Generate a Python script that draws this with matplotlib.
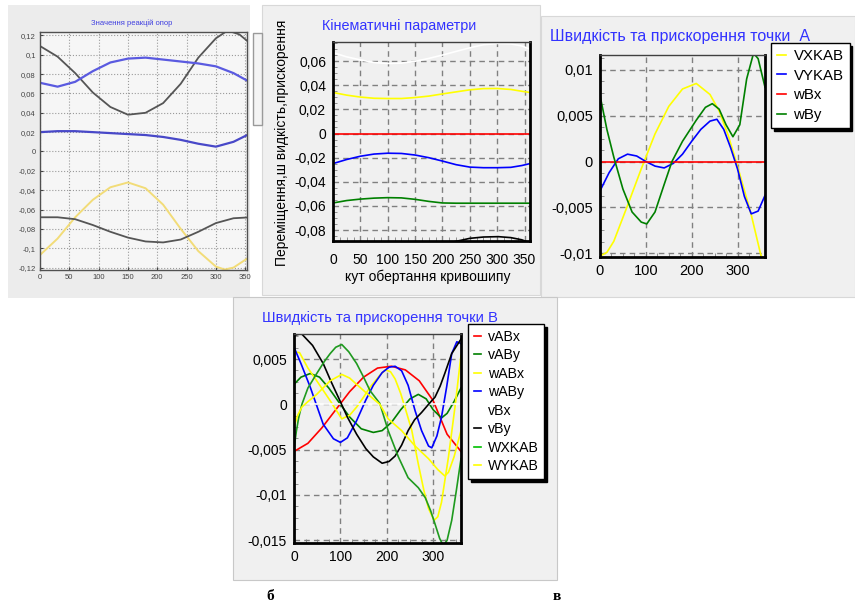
import matplotlib
matplotlib.use('Agg')
import matplotlib.pyplot as plt
from matplotlib.patches import Rectangle
from matplotlib.ticker import FuncFormatter, MultipleLocator

plt.rcParams.update({
    'font.family': ['Liberation Sans', 'DejaVu Sans'],
    'axes.unicode_minus': False,
})

W, H = 855, 605

# ---- панель 1: Значення реакцій опор ----
p1_black1_x = [0, 30, 60, 90, 120, 150, 180, 210, 240, 270, 300, 320, 340, 360]
p1_black1_y = [0.109, 0.098, 0.081, 0.061, 0.046, 0.038, 0.040, 0.050, 0.070, 0.097, 0.117, 0.125, 0.121, 0.111]
p1_blue1_x = [0, 30, 60, 90, 120, 150, 180, 210, 240, 270, 300, 330, 360]
p1_blue1_y = [0.071, 0.067, 0.072, 0.083, 0.092, 0.096, 0.097, 0.095, 0.093, 0.091, 0.088, 0.081, 0.071]
p1_blue2_x = [0, 30, 60, 90, 120, 150, 180, 210, 240, 270, 300, 330, 360]
p1_blue2_y = [0.020, 0.021, 0.021, 0.020, 0.019, 0.018, 0.017, 0.015, 0.012, 0.008, 0.005, 0.010, 0.019]
p1_yellow_x = [0, 30, 60, 90, 120, 150, 180, 210, 240, 270, 300, 315, 330, 360]
p1_yellow_y = [-0.107, -0.090, -0.068, -0.050, -0.037, -0.032, -0.038, -0.055, -0.080, -0.103, -0.119, -0.122, -0.120, -0.108]
p1_black2_x = [0, 30, 60, 90, 120, 150, 180, 210, 240, 270, 300, 330, 360]
p1_black2_y = [-0.068, -0.068, -0.070, -0.076, -0.083, -0.089, -0.093, -0.094, -0.091, -0.083, -0.074, -0.069, -0.068]

# ---- панель 2: Кінематичні параметри ----
p2_x = [0, 25, 50, 75, 100, 125, 150, 175, 200, 225, 250, 275, 300, 325, 345, 360]
p2_white = [0.067, 0.0635, 0.061, 0.0588, 0.058, 0.0583, 0.0598, 0.0622, 0.065, 0.068, 0.071, 0.0735, 0.0746, 0.0742, 0.0725, 0.0699]
p2_yellow = [0.034, 0.0318, 0.0302, 0.0292, 0.029, 0.029, 0.0298, 0.031, 0.0328, 0.0345, 0.0362, 0.0372, 0.0373, 0.0365, 0.035, 0.034]
p2_blue = [-0.0249, -0.0215, -0.0188, -0.017, -0.0163, -0.0165, -0.0178, -0.02, -0.0228, -0.0258, -0.0278, -0.0283, -0.0283, -0.028, -0.0265, -0.0249]
p2_green = [-0.0575, -0.0555, -0.0543, -0.0535, -0.0531, -0.0533, -0.0545, -0.0562, -0.0575, -0.0577, -0.0577, -0.0577, -0.0577, -0.0577, -0.0577, -0.0577]
p2_red = [0] * 16
p2_black_x = [0, 100, 200, 223, 250, 275, 302, 325, 345, 360]
p2_black_y = [-0.100, -0.097, -0.092, -0.0895, -0.0868, -0.0857, -0.0854, -0.0862, -0.088, -0.0905]

# ---- панель 3: точка А ----
p3_vx_x = [0, 15, 30, 60, 90, 120, 150, 180, 210, 240, 260, 280, 300, 330, 350, 360]
p3_vx_y = [-0.0103, -0.0099, -0.0087, -0.0048, -0.0008, 0.0030, 0.0060, 0.0079, 0.0085, 0.0073, 0.0055, 0.0028, -0.0005, -0.0058, -0.0100, -0.0115]
p3_vy_x = [0, 20, 40, 60, 80, 100, 120, 140, 160, 180, 200, 220, 240, 255, 270, 285, 300, 315, 330, 345, 360]
p3_vy_y = [-0.0032, -0.0012, 0.0003, 0.0008, 0.0006, 0.0, -0.0005, -0.0007, -0.0002, 0.0008, 0.0022, 0.0035, 0.0044, 0.0046, 0.0035, 0.0015, -0.0008, -0.0038, -0.0057, -0.0054, -0.0037]
p3_wbx_x = [0, 360]
p3_wbx_y = [0, 0]
p3_wby_x = [0, 15, 30, 50, 70, 90, 102, 120, 140, 157, 180, 210, 230, 245, 260, 275, 290, 305, 320, 335, 345, 360]
p3_wby_y = [0.0072, 0.0035, 0.0005, -0.0030, -0.0055, -0.0066, -0.0068, -0.0055, -0.0025, 0.0, 0.0022, 0.0045, 0.0059, 0.0063, 0.0057, 0.0040, 0.0027, 0.0040, 0.0090, 0.0118, 0.0112, 0.0081]

# ---- панель 4: точка В ----
p4_vabx_x = [0, 30, 60, 90, 120, 150, 180, 210, 240, 270, 300, 330, 360]
p4_vabx_y = [-0.0052, -0.0043, -0.0026, -0.0006, 0.0014, 0.0030, 0.0040, 0.0042, 0.0038, 0.0026, 0.0004, -0.0033, -0.0052]
p4_vaby_x = [0, 15, 35, 55, 75, 100, 120, 145, 171, 190, 210, 230, 250, 268, 285, 300, 318, 330, 345, 360]
p4_vaby_y = [0.0022, 0.0030, 0.0034, 0.0030, 0.0018, 0.0, -0.0014, -0.0027, -0.0031, -0.0029, -0.0020, -0.0006, 0.0006, 0.0011, 0.0006, -0.0006, -0.0015, -0.0010, 0.0003, 0.0018]
p4_wabx_x = [0, 12, 30, 49, 78, 103, 120, 135, 150, 164, 185, 197, 208, 218, 230, 239, 254, 268, 280, 290, 302, 310, 318, 333, 347, 360]
p4_wabx_y = [0.0058, 0.0057, 0.0040, 0.0026, 0.0004, -0.0016, -0.0012, -0.0003, 0.0008, 0.0019, 0.0032, 0.0038, 0.0036, 0.0028, 0.0012, -0.0003, -0.0029, -0.0066, -0.0095, -0.0115, -0.0128, -0.0124, -0.0108, -0.0058, -0.0003, 0.0054]
p4_waby_x = [0, 15, 35, 63, 85, 100, 115, 135, 155, 171, 190, 205, 218, 232, 246, 261, 275, 290, 297, 308, 318, 329, 340, 351, 360]
p4_waby_y = [0.0063, 0.0045, 0.0019, -0.0022, -0.0038, -0.0042, -0.0037, -0.0018, 0.0005, 0.0021, 0.0035, 0.0041, 0.0042, 0.0037, 0.0021, -0.0007, -0.0029, -0.0046, -0.0048, -0.0035, -0.0014, 0.0019, 0.0056, 0.0069, 0.0067]
p4_vbx_x = [0, 360]
p4_vbx_y = [0, 0]
p4_vby_x = [0, 16, 40, 63, 80, 99, 115, 135, 155, 171, 190, 205, 218, 232, 246, 260, 275, 290, 304, 315, 325, 340, 360]
p4_vby_y = [0.0076, 0.0078, 0.0065, 0.0045, 0.0025, 0.0004, -0.0014, -0.0033, -0.0049, -0.0058, -0.0065, -0.0063, -0.0057, -0.0045, -0.0029, -0.0017, -0.0009, 0.0, 0.0008, 0.0020, 0.0034, 0.0056, 0.0072]
p4_wx_x = [0, 5, 10, 17, 30, 49, 65, 78, 90, 103, 118, 135, 150, 164, 185, 203, 225, 246, 268, 283, 295, 304, 314, 322, 330, 340, 350, 360]
p4_wx_y = [-0.0049, -0.0030, -0.0015, 0.0, 0.0018, 0.0034, 0.0047, 0.0056, 0.0063, 0.0066, 0.0058, 0.0045, 0.0030, 0.0015, 0.0001, -0.0029, -0.0058, -0.0081, -0.0092, -0.0103, -0.0118, -0.0132, -0.0148, -0.0156, -0.0150, -0.0128, -0.0095, -0.0060]
p4_wy_x = [0, 8, 17, 30, 49, 78, 103, 120, 135, 155, 171, 185, 203, 232, 261, 290, 310, 325, 333, 345, 360]
p4_wy_y = [-0.0025, -0.0012, -0.0003, 0.0003, 0.0011, 0.0026, 0.0033, 0.0029, 0.0022, 0.0013, 0.0006, 0.0, -0.0016, -0.0029, -0.0046, -0.0060, -0.0072, -0.0079, -0.0075, -0.0058, -0.0029]


def fig_rect(l, t, r, b):
    return [l / W, 1 - b / H, (r - l) / W, (b - t) / H]


def bg(fig, l, t, r, b, fc, ec='none', lw=0.8):
    fig.add_artist(Rectangle((l / W, 1 - b / H), (r - l) / W, (b - t) / H,
                             transform=fig.transFigure, facecolor=fc,
                             edgecolor=ec, lw=lw, zorder=0))


def comma(v, pos):
    v = round(v, 5)
    if v == 0:
        return '0'
    return f"{v:g}".replace('.', ',')


def style_box(ax, lw_main=2.0, lw_top=1.0):
    for s in ['left', 'bottom', 'right']:
        ax.spines[s].set_linewidth(lw_main)
        ax.spines[s].set_color('black')
    ax.spines['top'].set_linewidth(lw_top)
    ax.spines['top'].set_color('#404040')
    ax.set_facecolor('#f0f0f0')
    ax.grid(True, which='major', color='#808080', ls=(0, (4, 3)), lw=1.0)
    ax.yaxis.set_major_formatter(FuncFormatter(comma))
    ax.tick_params(which='major', direction='in', length=0, labelsize=10, pad=5)
    ax.tick_params(which='minor', direction='in', length=3, color='#808080',
                   left=True, bottom=True)


def box_legend(ax, x, y, fs, spacing, hlen):
    leg = ax.legend(loc='upper left', bbox_to_anchor=(x / W, 1 - y / H),
                    bbox_transform=fig.transFigure, fontsize=fs, frameon=True,
                    fancybox=False, shadow={'color': 'black', 'alpha': 1},
                    handlelength=hlen, handletextpad=0.5, labelspacing=spacing,
                    borderpad=0.4, borderaxespad=0)
    leg.get_frame().set_edgecolor('black')
    leg.get_frame().set_linewidth(1.0)
    leg.get_frame().set_alpha(1)
    return leg


fig = plt.figure(figsize=(W / 100, H / 100), dpi=100)
fig.patch.set_facecolor('white')

# фон панелей
bg(fig, 8, 5, 250, 298, '#ececec')
bg(fig, 262, 5, 540, 295, '#f0f0f0', '#d8d8d8')
bg(fig, 541, 16, 855, 297, '#f0f0f0', '#d8d8d8')
bg(fig, 233, 297, 557, 580, '#f0f0f0', '#c8c8c8')
# обрізана легенда першої панелі
bg(fig, 253, 33, 262, 125, '#f4f4f4', '#9a9a9a', 1.0)

# ---- панель 1 ----
ax1 = fig.add_axes(fig_rect(40, 32, 247, 270))
ax1.set_facecolor('#f6f6f6')
ax1.plot(p1_black1_x, p1_black1_y, color='#555555', lw=1.3)
ax1.plot(p1_blue1_x, p1_blue1_y, color='#5a5ae0', lw=1.6)
ax1.plot(p1_blue2_x, p1_blue2_y, color='#4848c8', lw=1.6)
ax1.plot(p1_yellow_x, p1_yellow_y, color='#f2dc78', lw=1.4)
ax1.plot(p1_black2_x, p1_black2_y, color='#555555', lw=1.3)
ax1.set_xlim(0, 353)
ax1.set_ylim(-0.1225, 0.1235)
ax1.set_xticks(range(0, 351, 50))
ax1.set_yticks([-0.12, -0.1, -0.08, -0.06, -0.04, -0.02, 0, 0.02, 0.04, 0.06, 0.08, 0.1, 0.12])
ax1.yaxis.set_major_formatter(FuncFormatter(comma))
ax1.grid(True, color='#9a9a9a', ls=':', lw=0.8)
ax1.tick_params(labelsize=5.5, length=2, direction='in', colors='#444444', pad=3)
for s in ax1.spines.values():
    s.set_color('#505050')
    s.set_linewidth(1.0)
fig.text(132 / W, 1 - 23 / H, 'Значення реакцій опор', color='#4040e0',
         fontsize=5.5, ha='center', va='center')

# ---- панель 2 ----
ax2 = fig.add_axes(fig_rect(333, 42, 530, 241))
ax2.plot(p2_x, p2_white, color='white', lw=1.2)
ax2.plot(p2_x, p2_yellow, color='#ffff00', lw=1.2)
ax2.plot(p2_x, p2_red, color='#ff0000', lw=1.2)
ax2.plot(p2_x, p2_blue, color='#0000ff', lw=1.2)
ax2.plot(p2_x, p2_green, color='#008000', lw=1.2)
ax2.plot(p2_black_x, p2_black_y, color='black', lw=1.2)
ax2.set_xlim(0, 360)
ax2.set_ylim(-0.089, 0.0758)
ax2.set_xticks(range(0, 351, 50))
ax2.set_yticks([-0.08, -0.06, -0.04, -0.02, 0, 0.02, 0.04, 0.06])
ax2.xaxis.set_minor_locator(MultipleLocator(12.5))
ax2.yaxis.set_minor_locator(MultipleLocator(0.005))
style_box(ax2)
ax2.tick_params(axis='x', pad=9)
fig.text(399 / W, 1 - 26 / H, 'Кінематичні параметри', color='#3333ff',
         fontsize=10.4, ha='center', va='center')
fig.text(282 / W, 1 - 143 / H, 'Переміщення,ш видкість,прискорення',
         rotation=90, fontsize=10, ha='center', va='center')
fig.text(428 / W, 1 - 277 / H, 'кут обертання кривошипу', fontsize=10,
         ha='center', va='center')

# ---- панель 3 ----
ax3 = fig.add_axes(fig_rect(600, 55, 765, 257))
ax3.plot(p3_vx_x, p3_vx_y, color='#ffff00', lw=1.2, label='VXKAB')
ax3.plot(p3_vy_x, p3_vy_y, color='#0000ff', lw=1.2, label='VYKAB')
ax3.plot(p3_wbx_x, p3_wbx_y, color='#ff0000', lw=1.2, label='wBx')
ax3.plot(p3_wby_x, p3_wby_y, color='#008000', lw=1.2, label='wBy')
ax3.set_xlim(0, 360)
ax3.set_ylim(-0.0104, 0.0116)
ax3.set_xticks([0, 100, 200, 300])
ax3.set_yticks([-0.01, -0.005, 0, 0.005, 0.01])
ax3.xaxis.set_minor_locator(MultipleLocator(25))
ax3.yaxis.set_minor_locator(MultipleLocator(0.00125))
style_box(ax3)
ax3.tick_params(labelsize=10.5)
fig.text(550 / W, 1 - 37 / H, 'Швидкість та прискорення точки  А',
         color='#3333ff', fontsize=11.5, ha='left', va='center')
box_legend(ax3, 771, 43, 10.8, 0.38, 0.6)

# ---- панель 4 ----
ax4 = fig.add_axes(fig_rect(294, 334, 461, 543))
ax4.plot(p4_vabx_x, p4_vabx_y, color='#ff0000', lw=1.2, label='vABx')
ax4.plot(p4_vaby_x, p4_vaby_y, color='#008000', lw=1.2, label='vABy')
ax4.plot(p4_wabx_x, p4_wabx_y, color='#ffff00', lw=1.2, label='wABx')
ax4.plot(p4_waby_x, p4_waby_y, color='#0000ff', lw=1.2, label='wABy')
ax4.plot(p4_vbx_x, p4_vbx_y, color='white', lw=1.2, label='vBx')
ax4.plot(p4_vby_x, p4_vby_y, color='black', lw=1.2, label='vBy')
ax4.plot(p4_wx_x, p4_wx_y, color='#1f9a1f', lw=1.2, label='WXKAB')
ax4.plot(p4_wy_x, p4_wy_y, color='#ffff00', lw=1.2, label='WYKAB')
ax4.set_xlim(0, 360)
ax4.set_ylim(-0.0153, 0.00776)
ax4.set_xticks([0, 100, 200, 300])
ax4.set_yticks([-0.015, -0.01, -0.005, 0, 0.005])
ax4.xaxis.set_minor_locator(MultipleLocator(25))
ax4.yaxis.set_minor_locator(MultipleLocator(0.00125))
style_box(ax4)
fig.text(262 / W, 1 - 318 / H, 'Швидкість та прискорення точки В',
         color='#3333ff', fontsize=10.6, ha='left', va='center')
leg4 = box_legend(ax4, 468, 324, 10.2, 0.32, 0.5)
leg4.legend_handles[6].set_color('#00c000')

# підписи рисунків
fig.text(270 / W, 1 - 597 / H, 'б', fontsize=11, fontweight='bold',
         family=['Liberation Serif', 'DejaVu Serif'], ha='center', va='center')
fig.text(557 / W, 1 - 597 / H, 'в', fontsize=11, fontweight='bold',
         family=['Liberation Serif', 'DejaVu Serif'], ha='center', va='center')

plt.savefig('out.png', dpi=100)
plt.close()
